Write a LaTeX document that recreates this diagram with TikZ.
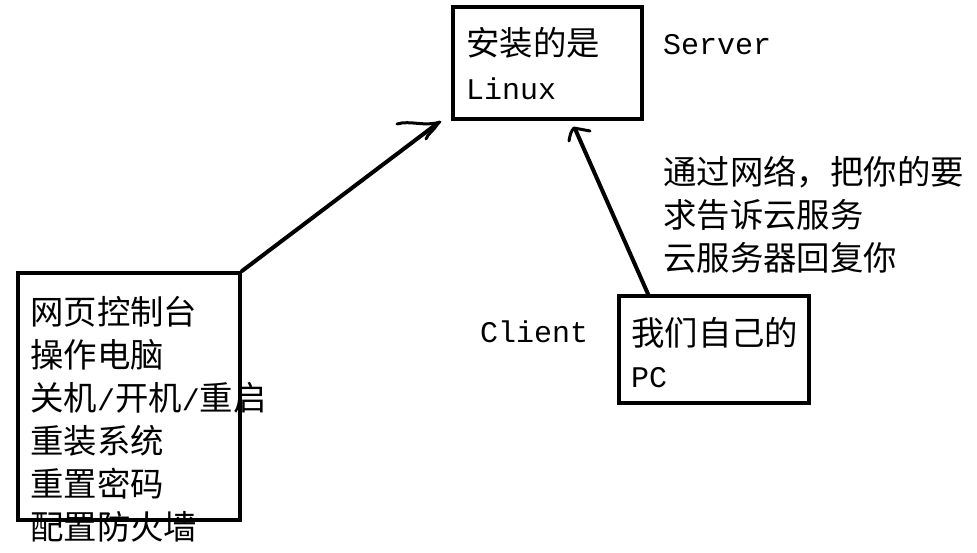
\documentclass[tikz,border=0pt]{standalone}
\usepackage{fontspec}
\setmainfont{Noto Sans CJK SC}
\setmonofont{Liberation Mono}
\newfontfamily\cjkfont{Noto Sans CJK SC}
\begin{document}
\begin{tikzpicture}[x=1pt,y=-1pt,
  box/.style={draw, line width=4pt, inner sep=0pt, anchor=north west},
  cjk/.style={anchor=base west, inner sep=0pt, font=\cjkfont\fontsize{33.4}{43}\selectfont},
  lat/.style={anchor=base west, inner sep=0pt, font=\ttfamily\fontsize{30}{43}\selectfont},
  conn/.style={line width=4pt, line cap=round, line join=round},
  hand/.style={line width=3pt, line cap=round, line join=round}]
\useasboundingbox (0,0) rectangle (977,553);
% boxes
\node[box, minimum width=189, minimum height=112] (sbox) at (451,5) {};
\node[box, minimum width=222, minimum height=247] (lbox) at (16,271) {};
\node[box, minimum width=190, minimum height=107] (cbox) at (617,294) {};
% server box text
\node[cjk] (s1) at (466,56) {安装的是};
\node[lat] (s2) at (466,100) {Linux};
\node[lat] (srv) at (663,55) {Server};
% left box text
\node[cjk] (l1) at (30,324) {网页控制台};
\node[cjk] (l2) at (30,367) {操作电脑};
\node[cjk] (l3) at (30,410) {关机{\ttfamily\fontsize{30}{43}\selectfont/}开机{\ttfamily\fontsize{30}{43}\selectfont/}重启};
\node[cjk] (l4) at (30,453) {重装系统};
\node[cjk] (l5) at (30,496) {重置密码};
\node[cjk] (l6) at (30,539) {配置防火墙};
% client
\node[cjk] (c1) at (631,345) {我们自己的};
\node[lat] (c2) at (631,387) {PC};
\node[lat] (cli) at (480,342) {Client};
% annotation
\node[cjk] (a1) at (663,185) {通过网络，把你的要};
\node[cjk] (a2) at (663,228) {求告诉云服务};
\node[cjk] (a3) at (663,271) {云服务器回复你};
% arrows
\coordinate (t1) at (438,123);
\coordinate (t2) at (576,131);
\draw[conn] (lbox.north east) -- (t1);
\draw[hand] (397,124) .. controls (410,120) and (425,127) .. (440,122);
\draw[hand] (426,139) .. controls (428,133) and (434,131) .. (t1);
\draw[conn] ([xshift=31pt]cbox.north west) -- (t2);
\draw[hand] (569,141) .. controls (570,135) and (571,131) .. (574,128) -- (590,131);
\end{tikzpicture}
\end{document}
